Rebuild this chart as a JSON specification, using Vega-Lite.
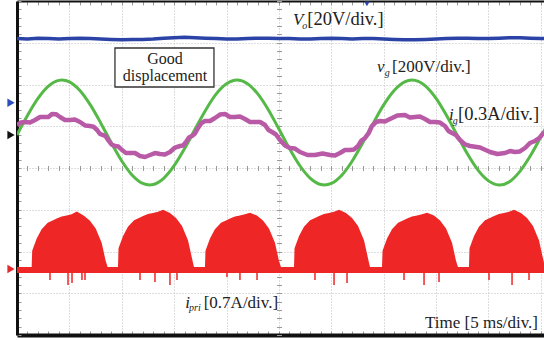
{
"$schema":"https://vega.github.io/schema/vega-lite/v6.json",
"width":527,"height":334,
"autosize":{"type":"none"},
"padding":{"left":17,"top":1,"right":0,"bottom":5},
"background":"white",
"config":{"view":{"stroke":null},"font":"Liberation Serif"},
"resolve":{"axis":{"x":"independent","y":"independent"}},
"datasets":{
"vo":[{"t":0,"v":3.10},{"t":1,"v":3.09},{"t":2,"v":3.11},{"t":3,"v":3.10},{"t":4,"v":3.09},{"t":5,"v":3.10},{"t":6,"v":3.11},{"t":7,"v":3.10},{"t":8,"v":3.09},{"t":9,"v":3.08},{"t":10,"v":3.07},{"t":11,"v":3.08},{"t":12,"v":3.08},{"t":13,"v":3.09},{"t":14,"v":3.11},{"t":15,"v":3.12},{"t":16,"v":3.13},{"t":17,"v":3.12},{"t":18,"v":3.11},{"t":19,"v":3.10},{"t":20,"v":3.09},{"t":21,"v":3.09},{"t":22,"v":3.10},{"t":23,"v":3.11},{"t":24,"v":3.11},{"t":25,"v":3.10},{"t":26,"v":3.10},{"t":27,"v":3.09},{"t":28,"v":3.09},{"t":29,"v":3.10},{"t":30,"v":3.11},{"t":31,"v":3.10},{"t":32,"v":3.09},{"t":33,"v":3.10},{"t":34,"v":3.10},{"t":35,"v":3.09},{"t":36,"v":3.08},{"t":37,"v":3.07},{"t":38,"v":3.07},{"t":39,"v":3.08},{"t":40,"v":3.09},{"t":41,"v":3.10},{"t":42,"v":3.11},{"t":43,"v":3.11},{"t":44,"v":3.10},{"t":45,"v":3.10},{"t":46,"v":3.11},{"t":47,"v":3.12},{"t":48,"v":3.12},{"t":49,"v":3.11},{"t":50,"v":3.10},{"t":50.3,"v":3.10}],
"vg":[{"t":0,"v":0.791},{"t":1,"v":1.256},{"t":2,"v":1.665},{"t":3,"v":1.960},{"t":4,"v":2.099},{"t":5,"v":2.064},{"t":6,"v":1.858},{"t":7,"v":1.512},{"t":8,"v":1.074},{"t":9,"v":0.603},{"t":10,"v":0.169},{"t":11,"v":-0.172},{"t":12,"v":-0.369},{"t":13,"v":-0.396},{"t":14,"v":-0.247},{"t":15,"v":0.055},{"t":16,"v":0.465},{"t":17,"v":0.933},{"t":18,"v":1.385},{"t":19,"v":1.768},{"t":20,"v":2.016},{"t":21,"v":2.107},{"t":22,"v":2.019},{"t":23,"v":1.768},{"t":24,"v":1.389},{"t":25,"v":0.933},{"t":26,"v":0.466},{"t":27,"v":0.054},{"t":28,"v":-0.248},{"t":29,"v":-0.396},{"t":30,"v":-0.369},{"t":31,"v":-0.172},{"t":32,"v":0.168},{"t":33,"v":0.602},{"t":34,"v":1.073},{"t":35,"v":1.513},{"t":36,"v":1.858},{"t":37,"v":2.064},{"t":38,"v":2.099},{"t":39,"v":1.960},{"t":40,"v":1.665},{"t":41,"v":1.256},{"t":42,"v":0.791},{"t":43,"v":0.333},{"t":44,"v":-0.052},{"t":45,"v":-0.308},{"t":46,"v":-0.407},{"t":47,"v":-0.329},{"t":48,"v":-0.080},{"t":49,"v":0.293},{"t":50,"v":0.745},{"t":51,"v":1.213}],
"ig":[{"t":0,"v":1.03},{"t":0.38,"v":1.09},{"t":0.76,"v":1.102},{"t":1.24,"v":1.09},{"t":1.72,"v":1.15},{"t":2.2,"v":1.22},{"t":2.67,"v":1.222},{"t":3.0,"v":1.22},{"t":3.34,"v":1.293},{"t":3.72,"v":1.29},{"t":4.10,"v":1.222},{"t":4.58,"v":1.15},{"t":5.06,"v":1.15},{"t":5.53,"v":1.16},{"t":6.01,"v":1.102},{"t":6.49,"v":1.02},{"t":6.97,"v":1.006},{"t":7.3,"v":0.99},{"t":7.64,"v":0.91},{"t":7.92,"v":0.815},{"t":8.21,"v":0.79},{"t":8.45,"v":0.765},{"t":8.69,"v":0.671},{"t":9.02,"v":0.564},{"t":9.35,"v":0.527},{"t":9.68,"v":0.514},{"t":10.02,"v":0.431},{"t":10.4,"v":0.36},{"t":10.79,"v":0.359},{"t":11.26,"v":0.358},{"t":11.74,"v":0.287},{"t":12.22,"v":0.264},{"t":12.70,"v":0.311},{"t":13.17,"v":0.358},{"t":13.65,"v":0.335},{"t":14.12,"v":0.324},{"t":14.60,"v":0.383},{"t":15.08,"v":0.49},{"t":15.56,"v":0.527},{"t":15.85,"v":0.54},{"t":16.13,"v":0.623},{"t":16.41,"v":0.73},{"t":16.70,"v":0.766},{"t":16.99,"v":0.827},{"t":17.28,"v":0.958},{"t":17.61,"v":1.077},{"t":17.94,"v":1.126},{"t":18.42,"v":1.127},{"t":18.90,"v":1.198},{"t":19.37,"v":1.28},{"t":19.85,"v":1.293},{"t":20.33,"v":1.222},{"t":20.81,"v":1.222},{"t":21.28,"v":1.233},{"t":21.76,"v":1.174},{"t":22.24,"v":1.103},{"t":22.72,"v":1.102},{"t":23.2,"v":1.101},{"t":23.67,"v":1.03},{"t":24.0,"v":0.911},{"t":24.34,"v":0.862},{"t":24.72,"v":0.802},{"t":25.10,"v":0.671},{"t":25.58,"v":0.54},{"t":26.05,"v":0.479},{"t":26.53,"v":0.466},{"t":27.01,"v":0.383},{"t":27.72,"v":0.312},{"t":28.44,"v":0.311},{"t":29.16,"v":0.346},{"t":29.88,"v":0.311},{"t":30.35,"v":0.30},{"t":30.83,"v":0.359},{"t":31.3,"v":0.43},{"t":31.78,"v":0.431},{"t":32.16,"v":0.444},{"t":32.55,"v":0.527},{"t":32.88,"v":0.658},{"t":33.22,"v":0.719},{"t":33.55,"v":0.828},{"t":33.88,"v":1.006},{"t":34.26,"v":1.101},{"t":34.65,"v":1.126},{"t":35.12,"v":1.115},{"t":35.60,"v":1.174},{"t":36.3,"v":1.257},{"t":37.03,"v":1.269},{"t":37.5,"v":1.21},{"t":37.99,"v":1.222},{"t":38.46,"v":1.233},{"t":38.94,"v":1.174},{"t":39.42,"v":1.103},{"t":39.90,"v":1.102},{"t":40.37,"v":1.089},{"t":40.85,"v":1.006},{"t":41.18,"v":0.887},{"t":41.52,"v":0.838},{"t":41.9,"v":0.79},{"t":42.28,"v":0.671},{"t":42.76,"v":0.564},{"t":43.24,"v":0.527},{"t":44.2,"v":0.49},{"t":45.15,"v":0.383},{"t":45.86,"v":0.336},{"t":46.58,"v":0.359},{"t":47.05,"v":0.406},{"t":47.53,"v":0.383},{"t":48.0,"v":0.396},{"t":48.49,"v":0.479},{"t":48.96,"v":0.598},{"t":49.44,"v":0.647},{"t":49.87,"v":0.72},{"t":50.30,"v":0.862}],
"ipri":[{"t":0,"v":-2.371},
{"t":1.40,"v":-2.371},{"t":1.45,"v":-1.98},{"t":1.88,"v":-1.69},{"t":2.35,"v":-1.47},{"t":2.93,"v":-1.31},{"t":3.40,"v":-1.26},{"t":3.79,"v":-1.21},{"t":4.26,"v":-1.16},{"t":4.74,"v":-1.14},{"t":5.22,"v":-1.11},{"t":5.70,"v":-1.04},{"t":6.36,"v":-1.14},{"t":6.94,"v":-1.26},{"t":7.51,"v":-1.45},{"t":8.08,"v":-1.79},{"t":8.46,"v":-2.22},{"t":8.65,"v":-2.371},
{"t":9.64,"v":-2.371},{"t":9.69,"v":-1.92},{"t":10.12,"v":-1.63},{"t":10.59,"v":-1.41},{"t":11.17,"v":-1.25},{"t":11.64,"v":-1.20},{"t":12.03,"v":-1.15},{"t":12.50,"v":-1.10},{"t":12.98,"v":-1.08},{"t":13.46,"v":-1.05},{"t":13.94,"v":-1.00},{"t":14.60,"v":-1.08},{"t":15.18,"v":-1.20},{"t":15.75,"v":-1.39},{"t":16.32,"v":-1.73},{"t":16.70,"v":-2.16},{"t":16.89,"v":-2.371},
{"t":17.94,"v":-2.371},{"t":17.99,"v":-1.98},{"t":18.42,"v":-1.69},{"t":18.89,"v":-1.47},{"t":19.47,"v":-1.31},{"t":19.94,"v":-1.26},{"t":20.33,"v":-1.21},{"t":20.80,"v":-1.16},{"t":21.28,"v":-1.14},{"t":21.76,"v":-1.11},{"t":22.24,"v":-1.07},{"t":22.90,"v":-1.14},{"t":23.48,"v":-1.26},{"t":24.05,"v":-1.45},{"t":24.62,"v":-1.79},{"t":25.00,"v":-2.22},{"t":25.19,"v":-2.371},
{"t":26.44,"v":-2.371},{"t":26.49,"v":-1.92},{"t":26.92,"v":-1.63},{"t":27.39,"v":-1.41},{"t":27.97,"v":-1.25},{"t":28.44,"v":-1.20},{"t":28.83,"v":-1.15},{"t":29.30,"v":-1.10},{"t":29.78,"v":-1.08},{"t":30.26,"v":-1.05},{"t":30.74,"v":-1.00},{"t":31.40,"v":-1.08},{"t":31.98,"v":-1.20},{"t":32.55,"v":-1.39},{"t":33.12,"v":-1.73},{"t":33.50,"v":-2.16},{"t":33.69,"v":-2.371},
{"t":34.84,"v":-2.371},{"t":34.89,"v":-1.98},{"t":35.32,"v":-1.69},{"t":35.79,"v":-1.47},{"t":36.37,"v":-1.31},{"t":36.84,"v":-1.26},{"t":37.23,"v":-1.21},{"t":37.70,"v":-1.16},{"t":38.18,"v":-1.14},{"t":38.66,"v":-1.11},{"t":39.14,"v":-1.07},{"t":39.80,"v":-1.14},{"t":40.38,"v":-1.26},{"t":40.95,"v":-1.45},{"t":41.52,"v":-1.79},{"t":41.90,"v":-2.22},{"t":42.09,"v":-2.371},
{"t":43.14,"v":-2.371},{"t":43.19,"v":-1.92},{"t":43.62,"v":-1.63},{"t":44.09,"v":-1.41},{"t":44.67,"v":-1.25},{"t":45.14,"v":-1.20},{"t":45.53,"v":-1.15},{"t":46.00,"v":-1.10},{"t":46.48,"v":-1.08},{"t":46.96,"v":-1.05},{"t":47.44,"v":-1.00},{"t":48.10,"v":-1.08},{"t":48.68,"v":-1.20},{"t":49.25,"v":-1.39},{"t":49.82,"v":-1.73},{"t":50.20,"v":-2.16},{"t":50.39,"v":-2.371}],
"spikes":[{"t":3.15,"v":-2.683},{"t":4.87,"v":-2.802},{"t":5.25,"v":-2.754},{"t":6.20,"v":-2.683},{"t":6.49,"v":-2.683},{"t":11.74,"v":-2.683},{"t":13.17,"v":-2.731},{"t":14.60,"v":-2.802},{"t":15.27,"v":-2.683},{"t":20.04,"v":-2.611},{"t":21.28,"v":-2.683},{"t":22.91,"v":-2.683},{"t":28.44,"v":-2.683},{"t":30.26,"v":-2.802},{"t":31.50,"v":-2.754},{"t":36.94,"v":-2.683},{"t":38.85,"v":-2.802},{"t":40.28,"v":-2.731},{"t":45.05,"v":-2.683},{"t":47.25,"v":-2.802},{"t":48.87,"v":-2.683}],
"labels":[{"t":26.34,"v":3.425,"text":"V","part":"it"},{"t":27.22,"v":3.33,"text":"o","part":"sub"},{"t":27.7,"v":3.425,"text":"[20V/div.]","part":"wide"},
{"t":34.36,"v":2.30,"text":"v","part":"it"},{"t":35.1,"v":2.204,"text":"g","part":"sub"},{"t":35.79,"v":2.30,"text":"[200V/div.]","part":"main"},
{"t":41.23,"v":1.15,"text":"i","part":"it"},{"t":41.6,"v":1.054,"text":"g","part":"sub"},{"t":42.1,"v":1.15,"text":"[0.3A/div.]","part":"wide"},
{"t":16.07,"v":-3.353,"text":"i","part":"it"},{"t":16.42,"v":-3.425,"text":"pri","part":"sub"},{"t":17.82,"v":-3.353,"text":"[0.7A/div.]","part":"main"},
{"t":38.94,"v":-3.832,"text":"Time [5 ms/div.]","part":"main"}],
"boxtext":[{"t":14.13,"v":2.491,"text":"Good"},{"t":14.13,"v":2.084,"text":"displacement"}],
"box":[{"t1":9.35,"t2":18.80,"v1":2.874,"v2":1.94}],
"markers":[{"t":-0.57,"v":1.564,"ch":"CH1"},{"t":-0.57,"v":0.79,"ch":"CH2"},{"t":-0.57,"v":-2.419,"ch":"CH3"}],
"topmark":[{"t":33.4,"v":3.93}]
},
"layer":[
{"mark":{"type":"rule","strokeDash":[1,2],"color":"#444","strokeWidth":1},
 "encoding":{"x":{"datum":20.97,"type":"quantitative","scale":{"domain":[0,50.3],"nice":false,"zero":false},"axis":null}}},
{"data":{"name":"ipri"},"mark":{"type":"area","color":"#ee2626","clip":true},
 "encoding":{
  "x":{"field":"t","type":"quantitative","scale":{"domain":[0,50.3],"nice":false,"zero":false},
   "axis":{"orient":"bottom","values":[0,1,2,3,4,5,6,7,8,9,10,11,12,13,14,15,16,17,18,19,20,21,22,23,24,25,26,27,28,29,30,31,32,33,34,35,36,37,38,39,40,41,42,43,44,45,46,47,48,49,50],
    "grid":true,"gridColor":"#bdbdbd","gridDash":[1,2],"gridOpacity":{"condition":{"test":"datum.value % 5 === 0","value":1},"value":0},
    "labels":false,"ticks":true,"tickSize":-4,"tickColor":"#9a9a9a","domain":true,"domainColor":"#111","domainWidth":4,"title":null}},
  "y":{"field":"v","type":"quantitative","scale":{"domain":[-4,4],"nice":false,"zero":false},
   "axis":{"orient":"left","values":[-4,-3.8,-3.6,-3.4,-3.2,-3,-2.8,-2.6,-2.4,-2.2,-2,-1.8,-1.6,-1.4,-1.2,-1,-0.8,-0.6,-0.4,-0.2,0,0.2,0.4,0.6,0.8,1,1.2,1.4,1.6,1.8,2,2.2,2.4,2.6,2.8,3,3.2,3.4,3.6,3.8,4],
    "grid":true,"gridColor":"#bdbdbd","gridDash":[1,2],"gridOpacity":{"condition":{"test":"abs(datum.value-round(datum.value))<0.01","value":1},"value":0},
    "labels":false,"ticks":true,"tickSize":-4,"tickColor":"#9a9a9a","domain":true,"domainColor":"#111","domainWidth":3,"title":null}},
  "y2":{"datum":-2.515}}},
{"data":{"name":"spikes"},"mark":{"type":"rule","color":"#ee2626","strokeWidth":1.5,"clip":true},
 "encoding":{"x":{"field":"t","type":"quantitative","axis":null},"y":{"field":"v","type":"quantitative","axis":null},"y2":{"datum":-2.515}}},
{"data":{"name":"vg"},"mark":{"type":"line","color":"#55b947","strokeWidth":3,"interpolate":"cardinal","clip":true},
 "encoding":{
  "x":{"field":"t","type":"quantitative","axis":{"orient":"top","values":[0,1,2,3,4,5,6,7,8,9,10,11,12,13,14,15,16,17,18,19,20,21,22,23,24,25,26,27,28,29,30,31,32,33,34,35,36,37,38,39,40,41,42,43,44,45,46,47,48,49,50],"grid":false,"labels":false,"tickSize":-4,"tickColor":"#9a9a9a","domain":true,"domainColor":"#111","domainWidth":2,"title":null}},
  "y":{"field":"v","type":"quantitative","axis":{"orient":"left","offset":-264.5,"values":[-4,-3.8,-3.6,-3.4,-3.2,-3,-2.8,-2.6,-2.4,-2.2,-2,-1.8,-1.6,-1.4,-1.2,-1,-0.8,-0.6,-0.4,-0.2,0,0.2,0.4,0.6,0.8,1,1.2,1.4,1.6,1.8,2,2.2,2.4,2.6,2.8,3,3.2,3.4,3.6,3.8,4],"grid":false,"labels":false,"domain":false,"tickSize":5,"tickColor":"#9a9a9a","title":null}}}},
{"data":{"name":"ig"},"mark":{"type":"line","color":"#b85aa6","strokeWidth":4.5,"strokeJoin":"round","clip":true},
 "encoding":{
  "x":{"field":"t","type":"quantitative","axis":{"orient":"bottom","offset":-169.5,"values":[0,1,2,3,4,5,6,7,8,9,10,11,12,13,14,15,16,17,18,19,20,21,22,23,24,25,26,27,28,29,30,31,32,33,34,35,36,37,38,39,40,41,42,43,44,45,46,47,48,49,50],"grid":false,"labels":false,"domain":false,"tickSize":5,"tickColor":"#9a9a9a","title":null}},
  "y":{"field":"v","type":"quantitative","axis":null}}},
{"data":{"name":"vo"},"mark":{"type":"line","color":"#2b43a6","strokeWidth":3.5,"clip":true},
 "encoding":{"x":{"field":"t","type":"quantitative","axis":null},"y":{"field":"v","type":"quantitative","axis":null}}},
{"data":{"name":"box"},"mark":{"type":"rect","fill":"white","stroke":"#333","strokeWidth":1.3},
 "encoding":{"x":{"field":"t1","type":"quantitative","axis":null},"x2":{"field":"t2"},"y":{"field":"v1","type":"quantitative","axis":null},"y2":{"field":"v2"}}},
{"data":{"name":"boxtext"},"mark":{"type":"text","align":"center","baseline":"alphabetic","fontSize":16,"color":"#222","font":"Liberation Serif"},
 "encoding":{"x":{"field":"t","type":"quantitative","axis":null},"y":{"field":"v","type":"quantitative","axis":null},"text":{"field":"text"}}},
{"data":{"name":"labels"},"transform":[{"filter":"datum.part==='main'"}],"mark":{"type":"text","align":"left","baseline":"alphabetic","fontSize":17,"color":"#222","font":"Liberation Serif"},
 "encoding":{"x":{"field":"t","type":"quantitative","axis":null},"y":{"field":"v","type":"quantitative","axis":null},"text":{"field":"text"}}},
{"data":{"name":"labels"},"transform":[{"filter":"datum.part==='wide'"}],"mark":{"type":"text","align":"left","baseline":"alphabetic","fontSize":18.5,"color":"#222","font":"Liberation Serif"},
 "encoding":{"x":{"field":"t","type":"quantitative","axis":null},"y":{"field":"v","type":"quantitative","axis":null},"text":{"field":"text"}}},
{"data":{"name":"labels"},"transform":[{"filter":"datum.part==='it'"}],"mark":{"type":"text","align":"left","baseline":"alphabetic","fontSize":17,"fontStyle":"italic","color":"#222","font":"Liberation Serif"},
 "encoding":{"x":{"field":"t","type":"quantitative","axis":null},"y":{"field":"v","type":"quantitative","axis":null},"text":{"field":"text"}}},
{"data":{"name":"labels"},"transform":[{"filter":"datum.part==='sub'"}],"mark":{"type":"text","align":"left","baseline":"alphabetic","fontSize":10,"fontStyle":"italic","color":"#222","font":"Liberation Serif"},
 "encoding":{"x":{"field":"t","type":"quantitative","axis":null},"y":{"field":"v","type":"quantitative","axis":null},"text":{"field":"text"}}},
{"data":{"name":"markers"},"mark":{"type":"point","shape":"triangle-right","filled":true,"size":70,"opacity":1},
 "encoding":{"x":{"field":"t","type":"quantitative","axis":null},"y":{"field":"v","type":"quantitative","axis":null},
  "color":{"field":"ch","type":"nominal","scale":{"domain":["CH1","CH2","CH3"],"range":["#2b4fc0","#111111","#e8282b"]},"legend":null}}},
{"data":{"name":"topmark"},"mark":{"type":"point","shape":"triangle-down","filled":true,"size":30,"color":"#2b43a6","opacity":1},
 "encoding":{"x":{"field":"t","type":"quantitative","axis":null},"y":{"field":"v","type":"quantitative","axis":null}}}
]
}
